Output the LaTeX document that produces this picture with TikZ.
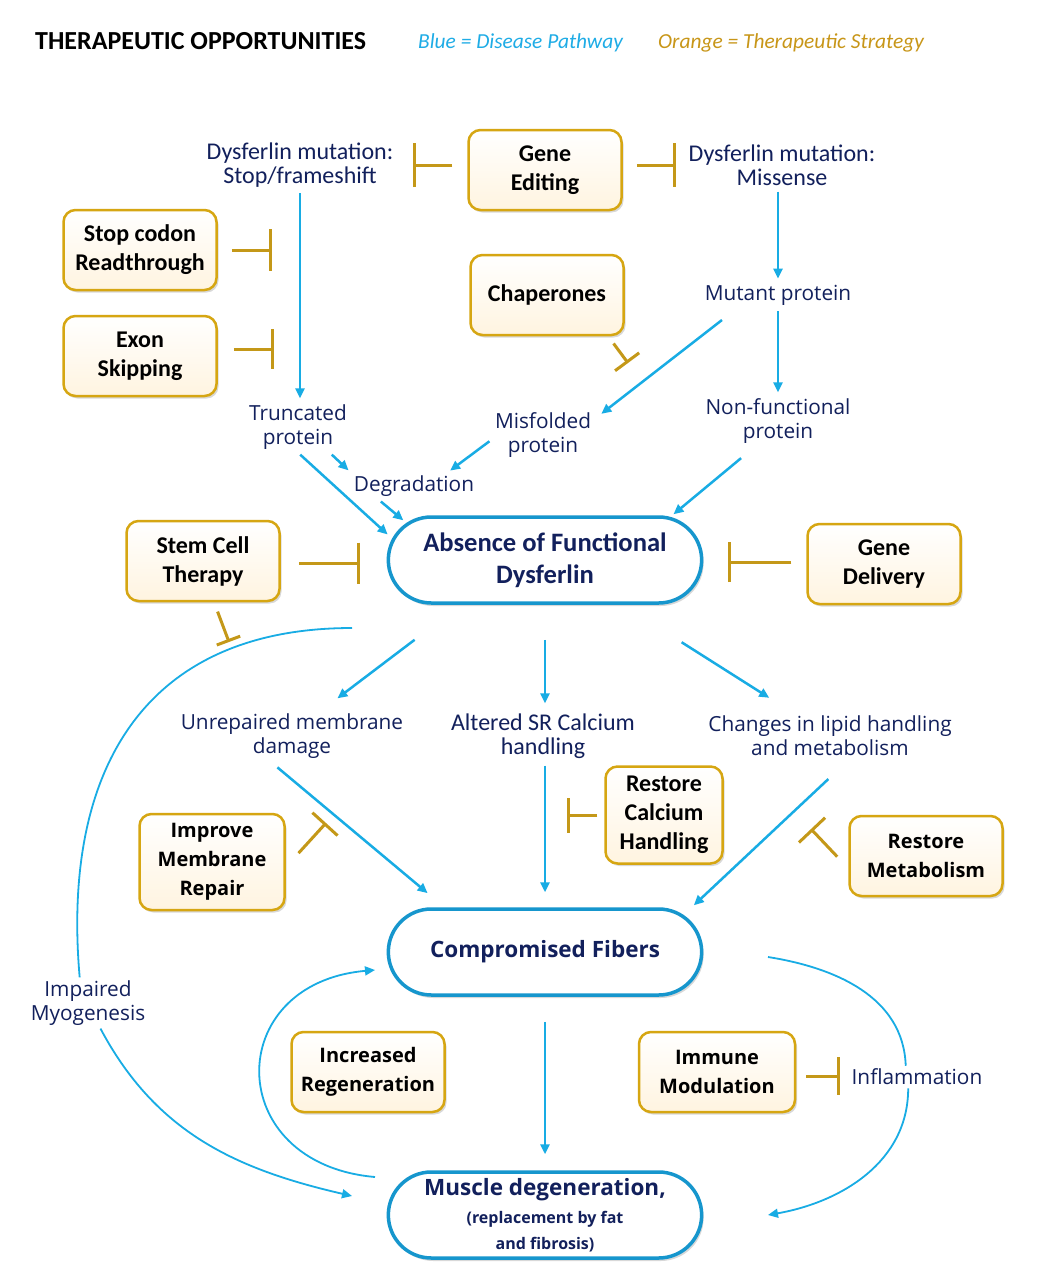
\documentclass[tikz,border=0pt]{standalone}
\usepackage{fontspec}
\setmainfont{Carlito}
\newfontfamily\widefont{Open Sans}
\usetikzlibrary{positioning,arrows.meta,shapes.misc,shadows}
\definecolor{navy}{RGB}{18,32,92}
\definecolor{flowblue}{RGB}{24,172,228}
\definecolor{ovalblue}{RGB}{22,150,205}
\definecolor{inhgold}{RGB}{196,152,24}
\definecolor{boxgold}{RGB}{214,166,18}
\definecolor{cream}{RGB}{255,244,224}
\definecolor{legblue}{RGB}{30,172,230}
\definecolor{legorange}{RGB}{200,150,24}

\begin{document}
\begin{tikzpicture}[x=1pt,y=1pt,
  strat/.style={draw=boxgold, line width=2.5pt, rounded corners=12pt,
    top color=white, bottom color=cream,
    drop shadow={shadow xshift=2pt,shadow yshift=-2.5pt,opacity=.3},
    align=center, minimum width=153pt, minimum height=80pt, inner sep=2pt,
    font=\fontsize{24}{29}\selectfont\bfseries},
  wide strat/.style={strat, font=\widefont\fontsize{20}{29}\selectfont\bfseries},
  state/.style={rounded rectangle, draw=ovalblue, line width=3.5pt, fill=white,
    drop shadow={shadow xshift=2pt,shadow yshift=-3pt,opacity=.3},
    minimum width=320pt, minimum height=86pt, align=center, text=navy},
  path label/.style={text=navy, align=center, inner sep=3pt,
    font=\fontsize{24}{24}\selectfont},
  wide label/.style={path label, font=\widefont\fontsize{20.8}{24}\selectfont},
  flow/.style={draw=flowblue, line width=2.5pt, shorten <=3pt, shorten >=3pt,
    -{Triangle[length=10pt,width=9pt]}},
  curve/.style={flow, line width=1.8pt, shorten <=0pt, shorten >=0pt},
  inhib/.style={draw=inhgold, line width=3pt, -{Bar[width=#1]}},
  inhib/.default=40pt]
  \fill[white] (0,0) rectangle (1051,-1270);
  \useasboundingbox (0,0) rectangle (1051,-1270);

  \node[anchor=west, inner sep=0, font=\fontsize{26}{30}\selectfont\bfseries] (title) at (35,-41) {THERAPEUTIC OPPORTUNITIES};
  \node[anchor=west, inner sep=0, text=legblue, font=\fontsize{21.4}{24}\selectfont\itshape] (key-blue) at (418,-43) {Blue = Disease Pathway};
  \node[anchor=west, inner sep=0, text=legorange, font=\fontsize{21.4}{24}\selectfont\itshape] (key-orange) at (658,-43) {Orange = Therapeutic Strategy};

  \node[strat] (gene) at (545,-170) {Gene\\Editing};
  \node[strat] (stop) at (140,-250) {Stop codon\\Readthrough};
  \node[strat] (exon) at (140,-356) {Exon\\Skipping};
  \node[strat] (chap) at (547,-295) {Chaperones};
  \node[strat] (stem) at (203,-561) {Stem Cell\\Therapy};
  \node[strat] (gdel) at (884,-564) {Gene\\Delivery};
  \node[strat, minimum width=117pt, minimum height=97pt] (rcal) at (664,-815) {Restore\\Calcium\\Handling};
  \node[wide strat, minimum width=145pt, minimum height=96pt] (imem) at (212,-862) {Improve\\Membrane\\Repair};
  \node[wide strat] (rmet) at (926,-856) {Restore\\Metabolism};
  \node[wide strat] (incr) at (368,-1072) {Increased\\Regeneration};
  \node[wide strat, minimum width=156pt] (imm) at (717,-1072) {Immune\\Modulation};

  \node[state, font=\fontsize{26.6}{32}\selectfont\bfseries] (absence) at (545,-560) {Absence of Functional\\Dysferlin};
  \node[state, font=\widefont\fontsize{22.5}{26}\selectfont\bfseries] (comp) at (545,-952) {Compromised Fibers};
  \node[state, font=\widefont\bfseries\fontsize{16}{26}\selectfont] (muscle) at (545,-1215) {{\fontsize{22.5}{28}\selectfont Muscle degeneration,}\\[2pt]
    (replacement by fat\\and fibrosis)};

  \node[path label] (mutstop) at (300,-165) {Dysferlin mutation:\\Stop/frameshift};
  \node[path label] (mutmis) at (782,-165) {Dysferlin mutation:\\Missense};
  \node[wide label] (mutant) at (778,-295) {Mutant protein};
  \node[wide label] (trunc) at (298,-427) {Truncated\\protein};
  \node[wide label] (misf) at (543,-435) {Misfolded\\protein};
  \node[wide label] (nonf) at (778,-421) {Non-functional\\protein};
  \node[wide label] (deg) at (414,-486) {Degradation};
  \node[wide label] (unrep) at (292,-736) {Unrepaired membrane\\damage};
  \node[path label] (alt) at (543,-736) {Altered SR Calcium\\handling};
  \node[wide label] (chg) at (830,-736) {Changes in lipid handling\\and metabolism};
  \node[wide label] (myo) at (88,-1003) {Impaired\\Myogenesis};
  \node[wide label] (infl) at (917,-1077) {Inflammation};

  \draw[flow] (mutstop.south) -- (mutstop.south |- trunc.north);
  \draw[flow] (mutmis.south -| mutant) -- (mutant.north);
  \draw[flow] (mutant.south) -- (mutant.south |- nonf.north);
  \draw[flow, shorten <=19pt, shorten >=9pt] (mutant.198) -- (misf.17);
  \draw[flow] (misf.185) -- (deg.22);
  \draw[flow] (trunc.-39) -- (deg.north west);
  \draw[flow, shorten >=6pt] (trunc.south) -- (absence.172);
  \draw[flow, shorten >=4pt] (deg.201) -- (absence.165);
  \draw[flow, shorten <=18pt, shorten >=4pt] (nonf.228) -- (absence.19);
  \draw[flow, shorten <=58pt, shorten >=20pt] (absence.208.5) -- (unrep.41);
  \draw[flow, shorten <=35pt, shorten >=7pt] (absence.south) -- (absence.south |- alt.north);
  \draw[flow, shorten <=70pt, shorten >=28pt] (absence.-30) -- (chg.148);
  \draw[flow, shorten <=9pt, shorten >=22pt] (unrep.230) -- (comp.156);
  \draw[flow, shorten <=4pt, shorten >=15pt] (alt.south -| comp) -- (comp.north);
  \draw[flow, shorten <=29pt, shorten >=14pt] (chg.-50) -- (comp.15);
  \draw[flow, shorten <=25pt, shorten >=16pt] (comp.south) -- (muscle.north);

  \coordinate (myo-a) at (352,-628);
  \coordinate (myo-b) at (352,-1196);
  \coordinate (reg-a) at (375,-1177);
  \coordinate (reg-b) at (375,-970);
  \coordinate (infl-a) at (768,-957);
  \coordinate (infl-b) at (768,-1215);
  \draw[curve, -] (myo-a) to[out=180, in=95, looseness=1.2] (myo.108);
  \draw[curve] (myo.-64) to[out=-62, in=167] (myo-b);
  \draw[curve] (reg-a) to[out=175, in=185, looseness=1.9] (reg-b);
  \draw[curve, -] (infl-a) to[out=-9, in=92] (infl.135);
  \draw[curve] (infl.232) to[out=-90, in=10] (infl-b);

  \coordinate (bar-ge-l) at (413,-165);
  \coordinate (bar-ge-r) at (676,-165);
  \coordinate (bar-stop) at (272,-250);
  \coordinate (bar-exon) at (274,-349);
  \coordinate (bar-chap) at (628,-363);
  \coordinate (bar-stem-d) at (229,-642);
  \coordinate (bar-stem-r) at (360,-563);
  \coordinate (bar-gdel) at (728,-562);
  \coordinate (bar-rcal) at (567,-815);
  \coordinate (bar-imem) at (326,-823);
  \coordinate (bar-rmet) at (811,-829);
  \coordinate (bar-imm) at (840,-1076);
  \draw[inhib=44pt, shorten <=15pt] (gene.west |- bar-ge-l) -- (bar-ge-l);
  \draw[inhib=44pt, shorten <=14pt] (gene.east |- bar-ge-r) -- (bar-ge-r);
  \draw[inhib=42pt, shorten <=14pt] (stop.east |- bar-stop) -- (bar-stop);
  \draw[inhib, shorten <=16pt] (exon.east |- bar-exon) -- (bar-exon);
  \draw[inhib=30pt, shorten <=9pt] (chap.-34) -- (bar-chap);
  \draw[inhib=25pt, shorten <=10pt] (stem.-75) -- (bar-stem-d);
  \draw[inhib=41pt, shorten <=18pt] (stem.east |- bar-stem-r) -- (bar-stem-r);
  \draw[inhib, shorten <=15pt] (gdel.west |- bar-gdel) -- (bar-gdel);
  \draw[inhib=35pt, shorten <=7pt] (rcal.west |- bar-rcal) -- (bar-rcal);
  \draw[inhib=34pt, shorten <=19pt] (imem.-4) -- (bar-imem);
  \draw[inhib=36pt, shorten <=16pt] (rmet.189) -- (bar-rmet);
  \draw[inhib=38pt, shorten <=10pt] (imm.east |- bar-imm) -- (bar-imm);
\end{tikzpicture}
\end{document}
